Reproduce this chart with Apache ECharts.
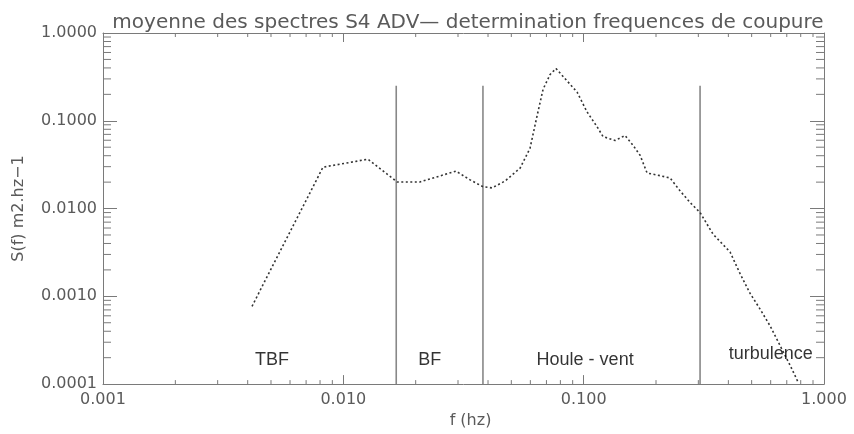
<!DOCTYPE html>
<html><head><meta charset="utf-8">
<script src="https://cdn.jsdelivr.net/npm/echarts@6/dist/echarts.min.js"></script>
<style>html,body{margin:0;padding:0;background:#fff}#c{width:854px;height:434px}</style>
</head><body><div id="c"></div>
<script>
const freq = [0.00417, 0.00823, 0.01267, 0.01673, 0.02085, 0.02944, 0.03369, 0.03815, 0.04158, 0.0471, 0.0544, 0.0598, 0.0640, 0.0678, 0.0725, 0.0767, 0.0821, 0.0939, 0.1033, 0.1137, 0.1204, 0.1351, 0.1487, 0.1606, 0.1717, 0.1836, 0.2021, 0.2288, 0.2519, 0.2773, 0.3051, 0.3455, 0.4066, 0.4476, 0.4926, 0.5422, 0.5967, 0.6567, 0.7227, 0.7805];
const spectrum = [0.00077, 0.0296, 0.0365, 0.0201, 0.0201, 0.0267, 0.0212, 0.0177, 0.0172, 0.0206, 0.0289, 0.0485, 0.114, 0.229, 0.337, 0.394, 0.320, 0.212, 0.126, 0.0856, 0.0661, 0.0596, 0.0679, 0.0524, 0.0404, 0.0254, 0.0241, 0.0223, 0.0159, 0.0117, 0.0090, 0.0051, 0.0032, 0.00181, 0.00108, 0.000714, 0.00046, 0.000274, 0.000164, 0.000105];
const cutoffFreqs = [0.0166, 0.0381, 0.305];
const cutoffTop = 0.25;
const bandNames = ['TBF', 'BF', 'Houle - vent', 'turbulence'];
const bandLabelFreqs = [0.00505, 0.0229, 0.1014, 0.60];
const bandLabelLevels = [0.00019, 0.00019, 0.00019, 0.00022];
const xTickLabels = ['0.001', '0.010', '0.100', '1.000'];
const yTickLabels = ['0.0001', '0.0010', '0.0100', '0.1000', '1.0000'];
const minorMultipliers = [2, 3, 4, 5, 6, 7, 8, 9];
const xDecades = [0.001, 0.01, 0.1];
const yDecades = [0.0001, 0.001, 0.01, 0.1];
const X_MIN = 0.001, X_MAX = 1, Y_MIN = 0.0001, Y_MAX = 1;

const xMinor = [];
xDecades.forEach(d => minorMultipliers.forEach(m => xMinor.push(d * m)));
const yMinor = [];
yDecades.forEach(d => minorMultipliers.forEach(m => yMinor.push(d * m)));

const AX = '#7a7a7a';
const TXT = '#5a5a5a';
const FONT = 'DejaVu Sans';

const chart = echarts.init(document.getElementById('c'), null, {renderer: 'canvas'});

const baseX = {
  type: 'log', logBase: 10, min: X_MIN, max: X_MAX,
  axisLine: {show: true, lineStyle: {color: AX, width: 1}},
  axisTick: {show: true, inside: true, length: 9, lineStyle: {color: AX}},
  splitLine: {show: false}, minorTick: {show: false}
};
const baseY = {
  type: 'log', logBase: 10, min: Y_MIN, max: Y_MAX,
  axisLine: {show: true, lineStyle: {color: AX, width: 1}},
  axisTick: {show: true, inside: true, length: 14, lineStyle: {color: AX}},
  splitLine: {show: false}, minorTick: {show: false}
};

const series = [];
series.push({
  type: 'line', data: freq.map((f, i) => [f, spectrum[i]]),
  showSymbol: false, symbol: 'none', smooth: false,
  lineStyle: {color: '#333', width: 1.6, type: [2, 2.5]}, z: 5, silent: true
});
cutoffFreqs.forEach(f => series.push({
  type: 'line', data: [[f, Y_MIN], [f, cutoffTop]], symbol: 'none',
  lineStyle: {color: '#888', width: 1.6}, z: 4, silent: true
}));
series.push({
  type: 'scatter', symbolSize: 0, silent: true, z: 6,
  data: bandLabelFreqs.map((f, i) => [f, bandLabelLevels[i], bandNames[i]]),
  label: {show: true, position: 'inside', formatter: p => p.data[2], color: '#000',
    fontSize: 18, fontFamily: 'Liberation Sans'}
});
series.push({
  type: 'custom', silent: true, z: 3, clip: false,
  data: xMinor.map(v => [v, Y_MIN]),
  renderItem: (params, api) => {
    const b = api.coord([api.value(0), Y_MIN]);
    const t = api.coord([api.value(0), Y_MAX]);
    return {type: 'group', children: [
      {type: 'line', shape: {x1: b[0], y1: b[1], x2: b[0], y2: b[1] - 4}, style: {stroke: AX, lineWidth: 1}},
      {type: 'line', shape: {x1: t[0], y1: t[1], x2: t[0], y2: t[1] + 4}, style: {stroke: AX, lineWidth: 1}}
    ]};
  }
});
series.push({
  type: 'custom', silent: true, z: 3, clip: false,
  data: yMinor.map(v => [X_MIN, v]),
  renderItem: (params, api) => {
    const l = api.coord([X_MIN, api.value(1)]);
    const r = api.coord([X_MAX, api.value(1)]);
    return {type: 'group', children: [
      {type: 'line', shape: {x1: l[0], y1: l[1], x2: l[0] + 8, y2: l[1]}, style: {stroke: AX, lineWidth: 1}},
      {type: 'line', shape: {x1: r[0], y1: r[1], x2: r[0] - 8, y2: r[1]}, style: {stroke: AX, lineWidth: 1}}
    ]};
  }
});

chart.setOption({
  animation: false,
  backgroundColor: '#fff',
  title: {
    text: 'moyenne des spectres S4 ADV— determination frequences de coupure',
    left: 463, top: 8, textAlign: 'center',
    textStyle: {color: TXT, fontSize: 20, fontWeight: 'normal', fontFamily: FONT}
  },
  grid: {left: 103, right: 30, top: 33, bottom: 46, containLabel: false},
  xAxis: [
    Object.assign({}, baseX, {
      position: 'bottom',
      name: 'f (hz)', nameLocation: 'middle', nameGap: 20,
      nameTextStyle: {color: TXT, fontSize: 16, fontFamily: FONT, padding: [0, 0, 0, 14]},
      axisLabel: {color: TXT, fontSize: 16, fontFamily: FONT, margin: 8,
        formatter: v => xTickLabels[Math.round(Math.log10(v) + 3)] || ''}
    }),
    Object.assign({}, baseX, {position: 'top', axisLabel: {show: false}})
  ],
  yAxis: [
    Object.assign({}, baseY, {
      position: 'left',
      name: 'S(f) m2.hz−1', nameLocation: 'middle', nameGap: 76,
      nameTextStyle: {color: TXT, fontSize: 16, fontFamily: FONT},
      axisLabel: {color: TXT, fontSize: 16, fontFamily: FONT, margin: 6,
        formatter: v => yTickLabels[Math.round(Math.log10(v) + 4)] || ''}
    }),
    Object.assign({}, baseY, {position: 'right', axisLabel: {show: false}})
  ],
  series: series
});
</script>
</body></html>
